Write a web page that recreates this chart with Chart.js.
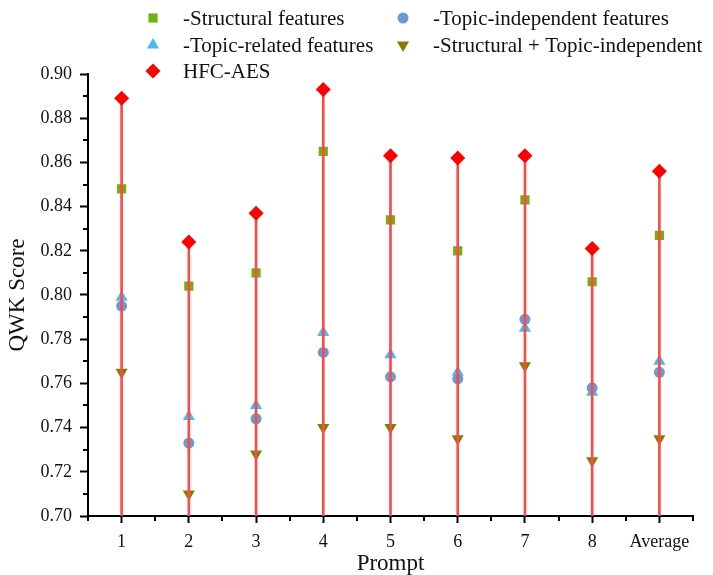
<!DOCTYPE html>
<html>
<head>
<meta charset="utf-8">
<title>QWK Score per Prompt</title>
<script src="https://cdn.jsdelivr.net/npm/chart.js@4.4.1/dist/chart.umd.min.js"></script>
<style>
  html, body { margin: 0; padding: 0; background: #fff; }
  #wrap { width: 713px; height: 575px; }
</style>
</head>
<body>
<div id="wrap"><canvas id="chartQwk" width="713" height="575"></canvas></div>
<script>
// data
const categories = ["1", "2", "3", "4", "5", "6", "7", "8", "Average"];
const structural = [0.848, 0.804, 0.810, 0.865, 0.834, 0.820, 0.843, 0.806, 0.827];
const topicRelated = [0.799, 0.745, 0.750, 0.783, 0.773, 0.765, 0.785, 0.756, 0.770];
const topicIndependent = [0.795, 0.733, 0.744, 0.774, 0.763, 0.762, 0.789, 0.758, 0.765];
const structTopicIndep = [0.765, 0.710, 0.728, 0.740, 0.740, 0.735, 0.768, 0.725, 0.735];
const hfcAes = [0.889, 0.824, 0.837, 0.893, 0.863, 0.862, 0.863, 0.821, 0.856];

const yMin = 0.70;
const yMax = 0.90;
const yStep = 0.02;

const FONT = '"Liberation Serif", "Times New Roman", serif';

const seri = [
  { label: "-Structural features", data: structural, style: "rect", color: "#72b012", radius: 6.5, rotation: 0 },
  { label: "-Topic-independent features", data: topicIndependent, style: "circle", color: "#6b9ad0", radius: 5.5, rotation: 0 },
  { label: "-Topic-related features", data: topicRelated, style: "triangle", color: "#47b9f7", radius: 7, rotation: 0 },
  { label: "-Structural + Topic-independent", data: structTopicIndep, style: "triangle", color: "#808000", radius: 7, rotation: 180 },
  { label: "HFC-AES", data: hfcAes, style: "rectRot", color: "#ff0000", radius: 7.5, rotation: 0 },
];

// legend: two columns like the original figure
const legendPos = [
  { x: 153, y: 18 }, { x: 403, y: 18 },
  { x: 153, y: 45 }, { x: 403, y: 45 },
  { x: 153, y: 71 },
];

function gambarTitik(ctx, s, x, y) {
  ctx.save();
  ctx.fillStyle = s.color;
  ctx.strokeStyle = s.color;
  Chart.helpers.drawPoint(ctx, { pointStyle: s.style, radius: s.radius, rotation: s.rotation, borderWidth: 0 }, x, y);
  ctx.restore();
}

const legendPlugin = {
  id: "legendDuaKolom",
  afterDraw(chart) {
    const ctx = chart.ctx;
    ctx.save();
    ctx.font = "21px " + FONT;
    ctx.fillStyle = "#111";
    ctx.textBaseline = "middle";
    ctx.textAlign = "left";
    seri.forEach((s, i) => {
      const p = legendPos[i];
      gambarTitik(ctx, s, p.x, p.y);
      ctx.fillStyle = "#111";
      ctx.fillText(s.label, p.x + 30, p.y + 1);
    });
    ctx.restore();
  },
};

// minor ticks (between categories and at odd hundredths)
const minorTicks = {
  id: "minorTicks",
  afterDraw(chart) {
    const ctx = chart.ctx;
    const xs = chart.scales.x;
    const ys = chart.scales.y;
    ctx.save();
    ctx.strokeStyle = "#000";
    ctx.lineWidth = 2;
    ctx.beginPath();
    for (let k = 1; k < Math.round((yMax - yMin) / 0.01); k += 2) {
      const py = Math.round(ys.getPixelForValue(yMin + k * 0.01));
      ctx.moveTo(ys.right - 5, py);
      ctx.lineTo(ys.right, py);
    }
    const yAxis = xs.top;
    const mids = [xs.left];
    for (let i = 0; i < categories.length - 1; i++) {
      mids.push((xs.getPixelForValue(i) + xs.getPixelForValue(i + 1)) / 2);
    }
    mids.push(xs.right);
    mids.forEach((px) => {
      px = Math.round(px);
      ctx.moveTo(px, yAxis);
      ctx.lineTo(px, yAxis + 5);
    });
    ctx.stroke();
    ctx.restore();
  },
};

const titikSets = seri.map((s) => ({
  type: "line",
  label: s.label,
  data: s.data,
  showLine: false,
  pointStyle: s.style,
  pointRotation: s.rotation,
  pointRadius: s.radius,
  pointHoverRadius: s.radius,
  pointBorderWidth: 0,
  pointBackgroundColor: s.color,
  pointBorderColor: s.color,
  backgroundColor: s.color,
  borderColor: s.color,
  order: s.label === "HFC-AES" ? 0 : 2,
}));

const garisSet = {
  type: "bar",
  label: "drop",
  data: hfcAes.map((v) => [yMin, v]),
  backgroundColor: "#ff4848",
  borderWidth: 0,
  barThickness: 2,
  order: 1,
};

new Chart(document.getElementById("chartQwk"), {
  type: "bar",
  data: { labels: categories, datasets: [garisSet, ...titikSets] },
  options: {
    responsive: false,
    animation: false,
    devicePixelRatio: 1,
    layout: { padding: { top: 74, right: 20, left: 0, bottom: 0 } },
    plugins: { legend: { display: false }, tooltip: { enabled: false } },
    scales: {
      x: {
        offset: true,
        grid: { offset: false, drawOnChartArea: false, tickLength: 7, tickWidth: 2, tickColor: "#000" },
        border: { display: true, color: "#000", width: 2 },
        ticks: { color: "#111", font: { family: FONT, size: 18 }, padding: 8, maxRotation: 0, autoSkip: false },
        title: { display: true, text: "Prompt", color: "#111", font: { family: FONT, size: 23, lineHeight: 1 }, padding: 0 },
        afterFit(scale) { scale.height = 59; },
      },
      y: {
        min: yMin,
        max: yMax,
        grid: { drawOnChartArea: false, tickLength: 8, tickWidth: 2, tickColor: "#000" },
        border: { display: true, color: "#000", width: 2 },
        ticks: {
          stepSize: yStep,
          color: "#111",
          font: { family: FONT, size: 18 },
          padding: 8,
          callback: (v) => Number(v).toFixed(2),
        },
        title: { display: true, text: "QWK Score", color: "#111", font: { family: FONT, size: 23 }, padding: { top: 4, bottom: 4 } },
        afterFit(scale) { scale.width = 88; },
      },
    },
  },
  plugins: [minorTicks, legendPlugin],
});
</script>
</body>
</html>
